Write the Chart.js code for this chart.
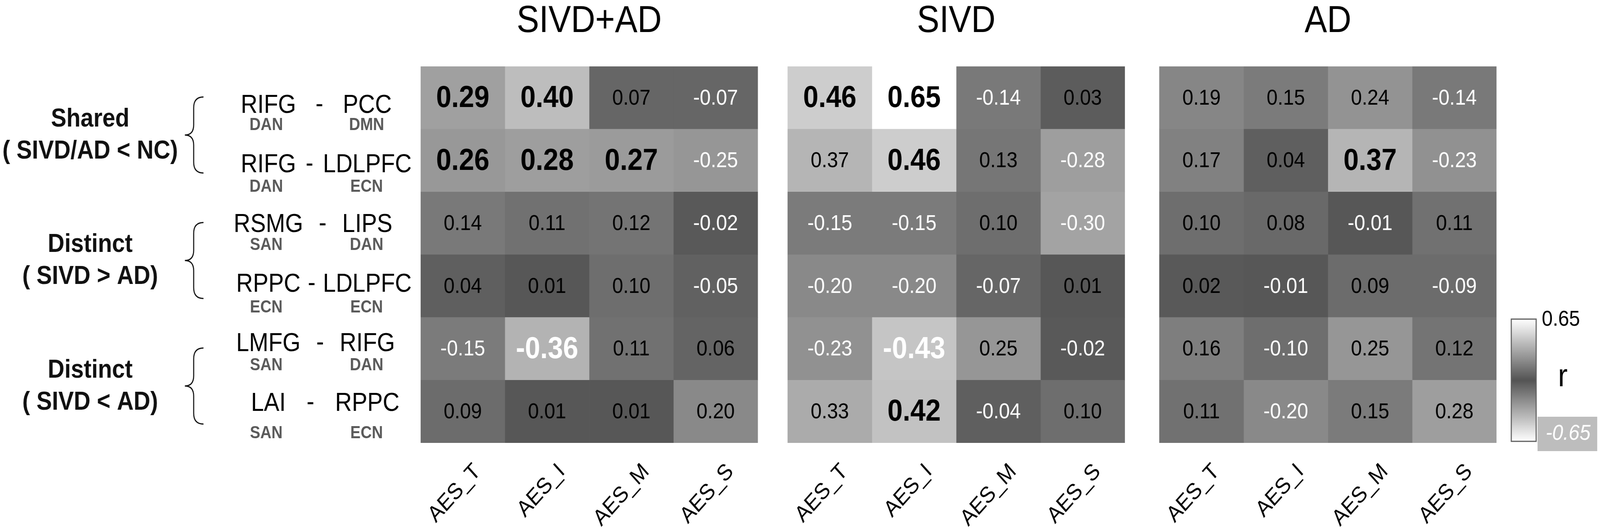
<!DOCTYPE html>
<html>
<head>
<meta charset="utf-8">
<script src="https://cdn.jsdelivr.net/npm/chart.js@4.4.1/dist/chart.umd.min.js"></script>
<style>
  html, body { margin: 0; padding: 0; background: #fff; overflow: hidden; }
  #wrap { width: 4561px; height: 1357px; transform-origin: 0 0; }
  #heat { display: block; }
</style>
</head>
<body>
<div id="wrap"><canvas id="heat" width="4561" height="1357"></canvas></div>
<script>
// ---- data ----
var columns = ['AES_T', 'AES_I', 'AES_M', 'AES_S'];
var groups = ['SIVD+AD', 'SIVD', 'AD'];
var rowLeft = ['RIFG', 'RIFG', 'RSMG', 'RPPC', 'LMFG', 'LAI'];
var rowRight = ['PCC', 'LDLPFC', 'LIPS', 'LDLPFC', 'RIFG', 'RPPC'];
var netLeft = ['DAN', 'DAN', 'SAN', 'ECN', 'SAN', 'SAN'];
var netRight = ['DMN', 'ECN', 'DAN', 'ECN', 'DAN', 'ECN'];
var sections = [['Shared', '( SIVD/AD < NC)'], ['Distinct', '( SIVD > AD)'], ['Distinct', '( SIVD < AD)']];

// rows x columns (AES_T, AES_I, AES_M, AES_S)
var rSivdAd = [
  [0.29, 0.40, 0.07, -0.07],
  [0.26, 0.28, 0.27, -0.25],
  [0.14, 0.11, 0.12, -0.02],
  [0.04, 0.01, 0.10, -0.05],
  [-0.15, -0.36, 0.11, 0.06],
  [0.09, 0.01, 0.01, 0.20]
];
var rSivd = [
  [0.46, 0.65, -0.14, 0.03],
  [0.37, 0.46, 0.13, -0.28],
  [-0.15, -0.15, 0.10, -0.30],
  [-0.20, -0.20, -0.07, 0.01],
  [-0.23, -0.43, 0.25, -0.02],
  [0.33, 0.42, -0.04, 0.10]
];
var rAd = [
  [0.19, 0.15, 0.24, -0.14],
  [0.17, 0.04, 0.37, -0.23],
  [0.10, 0.08, -0.01, 0.11],
  [0.02, -0.01, 0.09, -0.09],
  [0.16, -0.10, 0.25, 0.12],
  [0.11, -0.20, 0.15, 0.28]
];
// significant cells (printed bold)
var sigSivdAd = [[1,1,0,0],[1,1,1,0],[0,0,0,0],[0,0,0,0],[0,1,0,0],[0,0,0,0]];
var sigSivd   = [[1,1,0,0],[0,1,0,0],[0,0,0,0],[0,0,0,0],[0,1,0,0],[0,1,0,0]];
var sigAd     = [[0,0,0,0],[0,0,1,0],[0,0,0,0],[0,0,0,0],[0,0,0,0],[0,0,0,0]];
var rMin = -0.65, rMax = 0.65;

// ---- layout ----
var panelStart = [0, 4.355, 8.765];   // left edge of each panel, in column units
var FONT = '"Liberation Sans", Arial, Helvetica, sans-serif';

// the drawing is laid out at 4561x1357; stretch it onto the real viewport
document.getElementById('wrap').style.transform =
  'scale(' + (window.innerWidth / 4561) + ',' + (window.innerHeight / 1357) + ')';

function cellGray(r) {
  var t = Math.min(Math.abs(r) / rMax, 1);
  var v = Math.round(84 + 171 * t);
  return 'rgb(' + v + ',' + v + ',' + v + ')';
}

var groupValues = [rSivdAd, rSivd, rAd];
var groupSig = [sigSivdAd, sigSivd, sigAd];
var datasets = [];
groups.forEach(function (g, gi) {
  columns.forEach(function (c, ci) {
    var vals = groupValues[gi].map(function (row) { return row[ci]; });
    datasets.push({
      label: g + ' ' + c,
      data: vals.map(function () { return [panelStart[gi] + ci, panelStart[gi] + ci + 1]; }),
      rValues: vals,
      sig: groupSig[gi].map(function (row) { return row[ci]; }),
      backgroundColor: vals.map(cellGray),
      borderWidth: 0,
      borderSkipped: false,
      barPercentage: 1,
      categoryPercentage: 1,
      grouped: false
    });
  });
});

var tickCenters = [];
panelStart.forEach(function (s) {
  columns.forEach(function (c, ci) { tickCenters.push(s + ci + 0.5); });
});

// cell numbers
var cellText = {
  id: 'cellText',
  afterDatasetsDraw: function (chart) {
    var ctx = chart.ctx;
    ctx.save();
    ctx.textAlign = 'center';
    ctx.textBaseline = 'middle';
    chart.data.datasets.forEach(function (ds, di) {
      chart.getDatasetMeta(di).data.forEach(function (el, i) {
        var r = ds.rValues[i];
        ctx.font = (ds.sig[i] ? 'bold 78px ' : '56px ') + FONT;
        ctx.fillStyle = r < 0 ? '#ffffff' : '#000000';
        ctx.fillText(r.toFixed(2), (el.x + el.base) / 2, el.y + 2);
      });
    });
    ctx.restore();
  }
};

// titles, row names, brackets and colour bar
var annotate = {
  id: 'annotate',
  afterDraw: function (chart) {
    var ctx = chart.ctx, x = chart.scales.x, y = chart.scales.y;
    var L = chart.chartArea.left, R = chart.chartArea.right, B = chart.chartArea.bottom;
    ctx.save();

    // panel titles
    ctx.fillStyle = '#000';
    ctx.textAlign = 'center';
    ctx.textBaseline = 'alphabetic';
    ctx.font = '96px ' + FONT;
    groups.forEach(function (g, gi) {
      ctx.fillText(g, x.getPixelForValue(panelStart[gi] + 2), 82);
    });

    // row names
    var mid = (y.getPixelForValue(2) + y.getPixelForValue(3)) / 2;
    var subGap = [50, 56, 52, 60, 55, 76];
    rowLeft.forEach(function (name, i) {
      var ym = mid + (y.getPixelForValue(i) - mid) * 0.95;
      ctx.textBaseline = 'middle';
      ctx.textAlign = 'center';
      ctx.fillStyle = '#000';
      ctx.font = '66px ' + FONT;
      var xl = L - 434, xr = L - 152;
      ctx.fillText(name, xl, ym);
      ctx.fillText(rowRight[i], xr, ym);
      var endL = xl + ctx.measureText(name).width / 2;
      var startR = xr - ctx.measureText(rowRight[i]).width / 2;
      ctx.fillText('-', (endL + startR) / 2, ym - 2);
      ctx.font = 'bold 44px ' + FONT;
      ctx.fillStyle = '#5a5a5a';
      ctx.fillText(netLeft[i], L - 440, ym + subGap[i]);
      ctx.fillText(netRight[i], L - 154, ym + subGap[i]);
    });

    // section labels with curly brackets
    sections.forEach(function (lines, si) {
      var t = y.getPixelForValue(si * 2) - 2;
      var b = y.getPixelForValue(si * 2 + 1) + 32;
      var m = (t + b) / 2;
      var xr = L - 619, xm = L - 647, xt = L - 672;
      ctx.beginPath();
      ctx.moveTo(xr, t);
      ctx.quadraticCurveTo(xm, t, xm, t + 28);
      ctx.lineTo(xm, m - 26);
      ctx.quadraticCurveTo(xm, m, xt, m);
      ctx.quadraticCurveTo(xm, m, xm, m + 26);
      ctx.lineTo(xm, b - 28);
      ctx.quadraticCurveTo(xm, b, xr, b);
      ctx.strokeStyle = '#111';
      ctx.lineWidth = 3;
      ctx.stroke();

      ctx.fillStyle = '#111';
      ctx.font = 'bold 66px ' + FONT;
      ctx.textAlign = 'center';
      ctx.textBaseline = 'middle';
      ctx.fillText(lines[0], L - 942, m - 40);
      ctx.fillText(lines[1], L - 942, m + 42);
    });

    // colour bar
    var cx0 = R + 42, cx1 = R + 113, cy0 = B - 317, cy1 = B - 4;
    var grad = ctx.createLinearGradient(0, cy0, 0, cy1);
    for (var k = 0; k <= 26; k++) {
      grad.addColorStop(k / 26, cellGray(rMax - (k / 26) * (rMax - rMin)));
    }
    ctx.fillStyle = grad;
    ctx.fillRect(cx0, cy0, cx1 - cx0, cy1 - cy0);
    ctx.strokeStyle = '#5e5e5e';
    ctx.lineWidth = 3;
    ctx.strokeRect(cx0, cy0, cx1 - cx0, cy1 - cy0);

    ctx.fillStyle = '#000';
    ctx.textAlign = 'left';
    ctx.textBaseline = 'middle';
    ctx.font = '56px ' + FONT;
    ctx.fillText(rMax.toFixed(2), R + 129, cy0 + 2);
    ctx.textAlign = 'center';
    ctx.font = '82px ' + FONT;
    ctx.fillText('r', R + 189, B - 168);

    ctx.fillStyle = '#bdbdbd';
    ctx.fillRect(R + 117, B - 67, 170, 88);
    ctx.fillStyle = '#fff';
    ctx.font = 'italic 56px ' + FONT;
    ctx.fillText(rMin.toFixed(2), R + 204, B - 24);

    ctx.restore();
  }
};

new Chart(document.getElementById('heat').getContext('2d'), {
  type: 'bar',
  data: {
    labels: rowLeft.map(function (l, i) { return l + ' - ' + rowRight[i]; }),
    datasets: datasets
  },
  options: {
    indexAxis: 'y',
    responsive: false,
    devicePixelRatio: 1,
    animation: false,
    layout: { padding: { left: 1199, right: 295, top: 170, bottom: 0 } },
    plugins: { legend: { display: false }, tooltip: { enabled: false }, title: { display: false } },
    scales: {
      x: {
        type: 'linear',
        min: 0,
        max: panelStart[2] + 4,
        grid: { display: false, drawTicks: false },
        border: { display: false },
        afterBuildTicks: function (scale) {
          scale.ticks = tickCenters.map(function (v) { return { value: v }; });
        },
        afterFit: function (scale) { scale.height = 223; },
        ticks: {
          autoSkip: false,
          minRotation: 45,
          maxRotation: 45,
          padding: 40,
          labelOffset: 42,
          color: '#000',
          font: { family: FONT, size: 58 },
          callback: function (v, i) { return columns[i % columns.length]; }
        }
      },
      y: {
        type: 'category',
        display: false,
        offset: true
      }
    }
  },
  plugins: [cellText, annotate]
});
</script>
</body>
</html>
